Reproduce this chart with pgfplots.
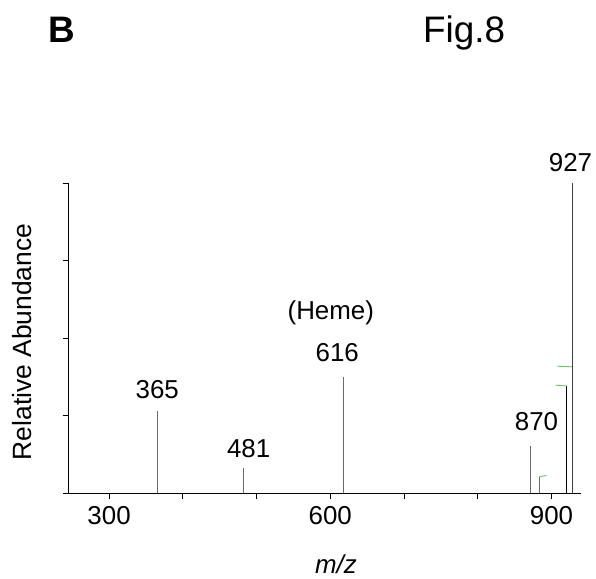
\documentclass[border=0pt]{standalone}
\usepackage{pgfplots}
\pgfplotsset{compat=1.18}
\usepackage{fontspec}
\setmainfont{Liberation Sans}
\definecolor{pkgreen}{RGB}{100,200,100}
\definecolor{pkgray}{RGB}{105,105,105}
\begin{document}
\begin{tikzpicture}[x=1bp,y=1bp]
\useasboundingbox (0,0) rectangle (596,579);
\begin{axis}[
  at={(68.5bp,85.7bp)}, anchor=south west,
  scale only axis, width=512.5bp, height=310bp,
  xmin=245, xmax=940, ymin=0, ymax=100,
  axis x line=bottom, axis y line=left,
  axis line style={-, line width=0.9bp},
  xtick={300,600,900}, minor xtick={400,500,700,800},
  ytick={0,25,50,75,100}, yticklabels={},
  tick align=outside, major tick length=6bp, minor tick length=6bp,
  every tick/.style={black, line width=0.8bp},
  minor tick style={black, line width=0.8bp},
  /pgf/number format/assume math mode=true,
  xticklabel style={font=\fontsize{26}{30}\selectfont, anchor=base, yshift=-25bp},
  clip=false,
]
\addplot[ycomb, pkgray, line width=0.9bp, mark=none] coordinates {(366,26.6) (482,8.1) (617.5,37.6) (871.5,15.3) (883.5,5.4)};
\addplot[ycomb, black, line width=0.9bp, mark=none] coordinates {(920.5,34.6)};
\addplot[ycomb, black!75, line width=1.3bp, mark=none] coordinates {(928.2,100)};
\addplot[pkgreen, line width=0.9bp, mark=none] coordinates {(907.2,41.0) (927.5,40.8)};
\addplot[pkgreen, line width=0.9bp, mark=none] coordinates {(905.7,34.9) (920.5,34.6)};
\addplot[pkgreen, line width=0.9bp, mark=none] coordinates {(883.5,5.4) (893.2,5.7)};
\begin{scope}[every node/.style={font=\fontsize{26}{30}\selectfont, anchor=base, inner sep=0pt}]
\node at (axis cs:365.3,30.7) {365};
\node at (axis cs:489.3,11.5) {481};
\node at (axis cs:609.4,42.4) {616};
\node at (axis cs:600.7,56.2) {(Heme)};
\node at (axis cs:879.6,20.4) {870};
\node at (axis cs:925.7,103.7) {927};
\end{scope}
\end{axis}
\node[anchor=base west, inner sep=0pt, font=\fontsize{37}{40}\selectfont\bfseries] at (48,536) {B};
\node[anchor=base west, inner sep=0pt, font=\fontsize{37}{40}\selectfont] at (423,536) {Fig.8};
\node[rotate=90, anchor=base, inner sep=0pt, font=\fontsize{26.5}{30}\selectfont] at (31,237) {Relative Abundance};
\node[anchor=base, inner sep=0pt, font=\fontsize{26}{30}\selectfont\itshape] at (336,5) {m/z};
\end{tikzpicture}
\end{document}
